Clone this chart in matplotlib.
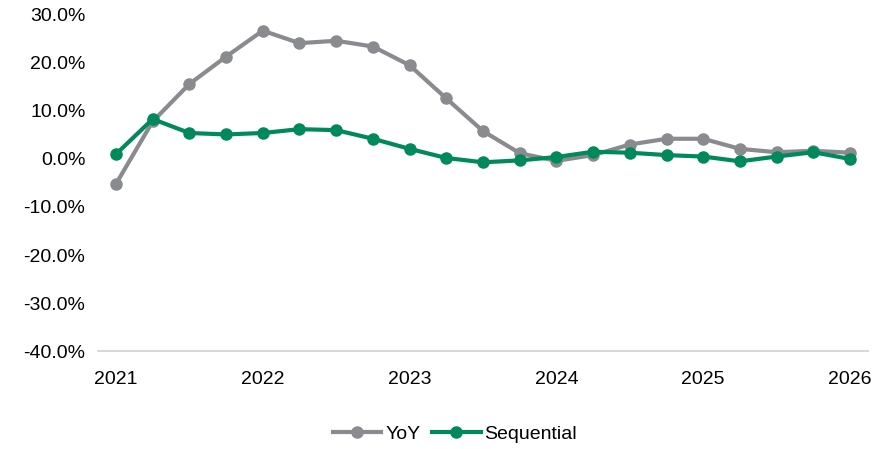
import numpy as np
import matplotlib.pyplot as plt

# quarterly points, 2021 -> 2026
quarters = np.arange(21)
years = [2021, 2022, 2023, 2024, 2025, 2026]
yoy = [-5.2, 7.8, 15.6, 21.3, 26.7, 24.1, 24.6, 23.4, 19.5, 12.6, 5.8,
       1.2, -0.4, 0.8, 3.0, 4.2, 4.2, 2.1, 1.4, 1.7, 1.3]
seq = [1.0, 8.3, 5.4, 5.1, 5.4, 6.2, 6.0, 4.2, 2.1, 0.2, -0.7,
       -0.3, 0.4, 1.5, 1.3, 0.8, 0.5, -0.5, 0.5, 1.4, 0.0]

plt.rcParams['font.family'] = ['Liberation Sans', 'DejaVu Sans']

fig = plt.figure(figsize=(8.75, 4.49), dpi=100)
ax = fig.add_axes([0.112, 0.218, 0.88, 0.749])

ax.plot(quarters, yoy, color='#8a8b8e', lw=3, marker='o', ms=8, label='YoY')
ax.plot(quarters, seq, color='#00895a', lw=3, marker='o', ms=8, label='Sequential')

ax.set_ylim(-40, 30)
ax.set_xlim(-0.49, 20.49)
ax.set_yticks(np.arange(-40, 31, 10))
ax.set_yticklabels(['%.1f%%' % v for v in np.arange(-40, 31, 10)])
ax.set_xticks(np.arange(0, 21, 4))
ax.set_xticklabels([str(y) for y in years])
ax.tick_params(length=0, labelsize=14, colors='black')
ax.tick_params(axis='x', pad=14)
ax.tick_params(axis='y', pad=9)

for s in ['top', 'right', 'left']:
    ax.spines[s].set_visible(False)
ax.spines['bottom'].set_color('#d9d9d9')
ax.spines['bottom'].set_linewidth(1.5)

fig.legend(loc='center', bbox_to_anchor=(0.52, 0.034), ncol=2, frameon=False,
           fontsize=14, handlelength=2.5, columnspacing=0.6, handletextpad=0.2)

fig.savefig('out.png', dpi=100)
